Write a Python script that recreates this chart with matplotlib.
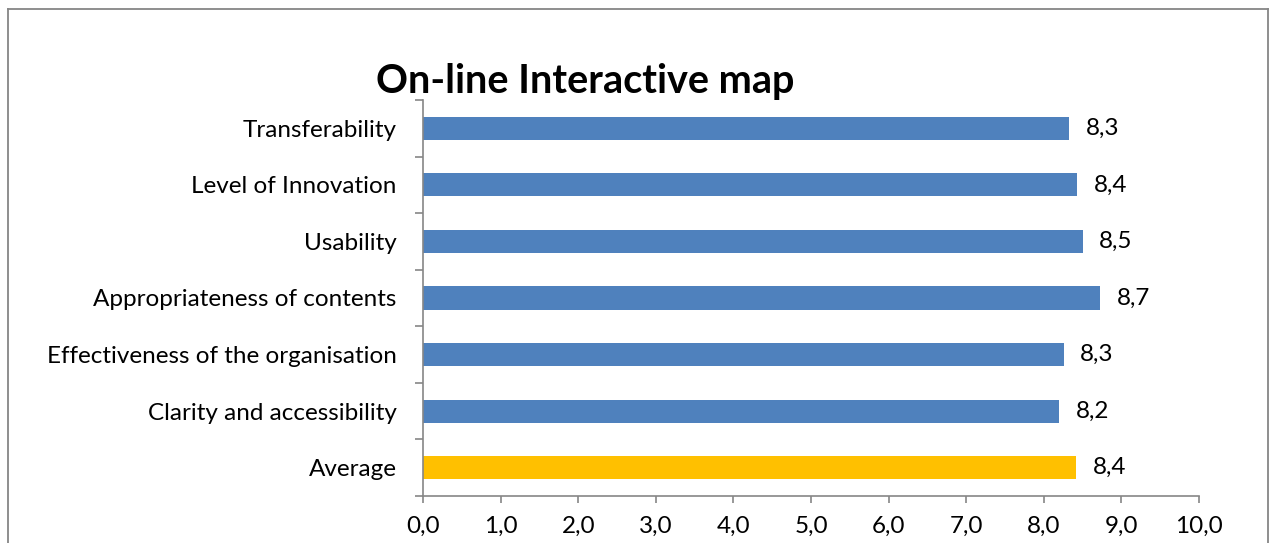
import matplotlib
matplotlib.use("Agg")
import matplotlib.pyplot as plt
from matplotlib.lines import Line2D
from matplotlib.ticker import FixedLocator

categories = [
    "Average",
    "Clarity and accessibility",
    "Effectiveness of the organisation",
    "Appropriateness of contents",
    "Usability",
    "Level of Innovation",
    "Transferability",
]
scores = [8.42, 8.20, 8.26, 8.73, 8.50, 8.43, 8.33]
score_labels = ["8,4", "8,2", "8,3", "8,7", "8,5", "8,4", "8,3"]
bar_colors = ["#FFC000"] + ["#4F81BD"] * 6
x_ticks = [0, 1, 2, 3, 4, 5, 6, 7, 8, 9, 10]

plt.rcParams["font.family"] = ["Lato", "DejaVu Sans"]
axis_grey = "#868686"

fig = plt.figure(figsize=(12.7, 5.43), dpi=100)
ax = fig.add_axes([423 / 1270, 1 - 496 / 543, 776 / 1270, 396 / 543])

pos = list(range(len(categories)))
ax.barh(pos, scores, height=0.41, color=bar_colors)
for y, v, lab in zip(pos, scores, score_labels):
    ax.text(v + 0.21, y, lab, va="center", ha="left", fontsize=17.5, color="black")

ax.set_xlim(0, 10)
ax.set_ylim(-0.5, len(categories) - 0.5)
ax.set_xticks(x_ticks)
ax.set_xticklabels([f"{t:.1f}".replace(".", ",") for t in x_ticks])
ax.set_yticks(pos)
ax.set_yticklabels(categories)
ax.yaxis.set_minor_locator(FixedLocator([p - 0.5 for p in pos] + [len(pos) - 0.5]))

ax.tick_params(axis="y", which="major", length=0, pad=19, labelsize=17.5)
ax.tick_params(axis="y", which="minor", length=6, width=1.2, color=axis_grey)
ax.tick_params(axis="x", which="major", length=5, width=1.2, color=axis_grey,
               pad=9, labelsize=17.5, direction="out")

for side in ["top", "right"]:
    ax.spines[side].set_visible(False)
for side in ["left", "bottom"]:
    ax.spines[side].set_color(axis_grey)
    ax.spines[side].set_linewidth(1.2)

fig.text(585 / 1270, 1 - 81 / 543, "On-line Interactive map", ha="center", va="center",
         fontsize=28.5, fontweight="bold")

# outer chart frame
l, r, t = 7.5 / 1270, 1268 / 1270, 1 - 9 / 543
for xs, ys in [([l, r], [t, t]), ([l, l], [t, -0.05]), ([r, r], [t, -0.05])]:
    fig.add_artist(Line2D(xs, ys, color=axis_grey, linewidth=1.3, transform=fig.transFigure))

fig.savefig("out.png", dpi=100)
